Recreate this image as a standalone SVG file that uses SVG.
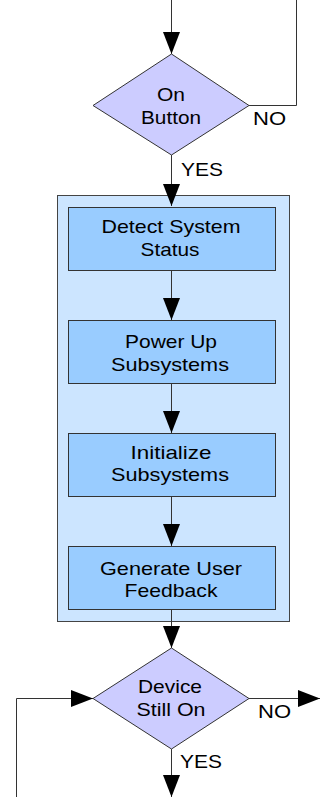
<svg xmlns="http://www.w3.org/2000/svg" width="320" height="797" viewBox="0 0 320 797">
<defs>
<style>
.lbl{font-family:"Liberation Sans",Arial,sans-serif;font-size:19px;fill:#000;text-anchor:middle}
.yn{font-family:"Liberation Sans",Arial,sans-serif;font-size:19px;fill:#000}
.dia{fill:#ccccff;stroke:#333;stroke-width:1}
.box{fill:#99ccff;stroke:#333;stroke-width:1}
.cont{fill:#cce5ff;stroke:#444;stroke-width:1}
.ln{fill:none;stroke:#333;stroke-width:1}
</style>
<marker id="ah" markerUnits="userSpaceOnUse" markerWidth="22" markerHeight="18" refX="22" refY="8.5" orient="auto">
<path d="M0,0 L22,8.5 L0,17 z" fill="#000"/>
</marker>
</defs>
<rect width="320" height="797" fill="#fff"/>
<g id="container"><rect class="cont" x="57.5" y="195.5" width="232" height="426"/></g>
<g id="connectors">
<path class="ln" d="M171.5,0 V54" marker-end="url(#ah)"/>
<path class="ln" d="M296.5,0 V105.5 H249"/>
<path class="ln" d="M171.5,155 V206" marker-end="url(#ah)"/>
<path class="ln" d="M171.5,270 V320" marker-end="url(#ah)"/>
<path class="ln" d="M171.5,383 V433" marker-end="url(#ah)"/>
<path class="ln" d="M171.5,496 V546" marker-end="url(#ah)"/>
<path class="ln" d="M171.5,610 V648" marker-end="url(#ah)"/>
<path class="ln" d="M171.5,749 V797" marker-end="url(#ah)"/>
<path class="ln" d="M16.5,797 V698.5 H93" marker-end="url(#ah)"/>
<path class="ln" d="M249,698.5 H320" marker-end="url(#ah)"/>
<text class="yn" x="253" y="125" textLength="33" lengthAdjust="spacingAndGlyphs">NO</text>
<text class="yn" x="181" y="176" textLength="42" lengthAdjust="spacingAndGlyphs">YES</text>
<text class="yn" x="258" y="718" textLength="33" lengthAdjust="spacingAndGlyphs">NO</text>
<text class="yn" x="180" y="768" textLength="42" lengthAdjust="spacingAndGlyphs">YES</text>
</g>
<g id="on-button">
<polygon class="dia" points="171.5,54 249,105.5 171.5,155 93,105.5"/>
<text class="lbl" x="171" y="101" textLength="28" lengthAdjust="spacingAndGlyphs">On</text>
<text class="lbl" x="171" y="124" textLength="60" lengthAdjust="spacingAndGlyphs">Button</text>
</g>
<g id="detect">
<rect class="box" x="68.5" y="207.5" width="207" height="63"/>
<text class="lbl" x="171" y="233" textLength="139" lengthAdjust="spacingAndGlyphs">Detect System</text>
<text class="lbl" x="170" y="256" textLength="59" lengthAdjust="spacingAndGlyphs">Status</text>
</g>
<g id="powerup">
<rect class="box" x="68.5" y="320.5" width="207" height="63"/>
<text class="lbl" x="171" y="348" textLength="92" lengthAdjust="spacingAndGlyphs">Power Up</text>
<text class="lbl" x="170" y="371" textLength="118" lengthAdjust="spacingAndGlyphs">Subsystems</text>
</g>
<g id="init">
<rect class="box" x="68.5" y="433.5" width="207" height="63"/>
<text class="lbl" x="171" y="459" textLength="81" lengthAdjust="spacingAndGlyphs">Initialize</text>
<text class="lbl" x="170" y="481" textLength="118" lengthAdjust="spacingAndGlyphs">Subsystems</text>
</g>
<g id="feedback">
<rect class="box" x="68.5" y="546.5" width="207" height="63"/>
<text class="lbl" x="171" y="575" textLength="142" lengthAdjust="spacingAndGlyphs">Generate User</text>
<text class="lbl" x="171" y="597" textLength="93" lengthAdjust="spacingAndGlyphs">Feedback</text>
</g>
<g id="still-on">
<polygon class="dia" points="171.5,648 249,698.5 171.5,749 93,698.5"/>
<text class="lbl" x="170" y="693" textLength="64" lengthAdjust="spacingAndGlyphs">Device</text>
<text class="lbl" x="171" y="716" textLength="69" lengthAdjust="spacingAndGlyphs">Still On</text>
</g>
</svg>
